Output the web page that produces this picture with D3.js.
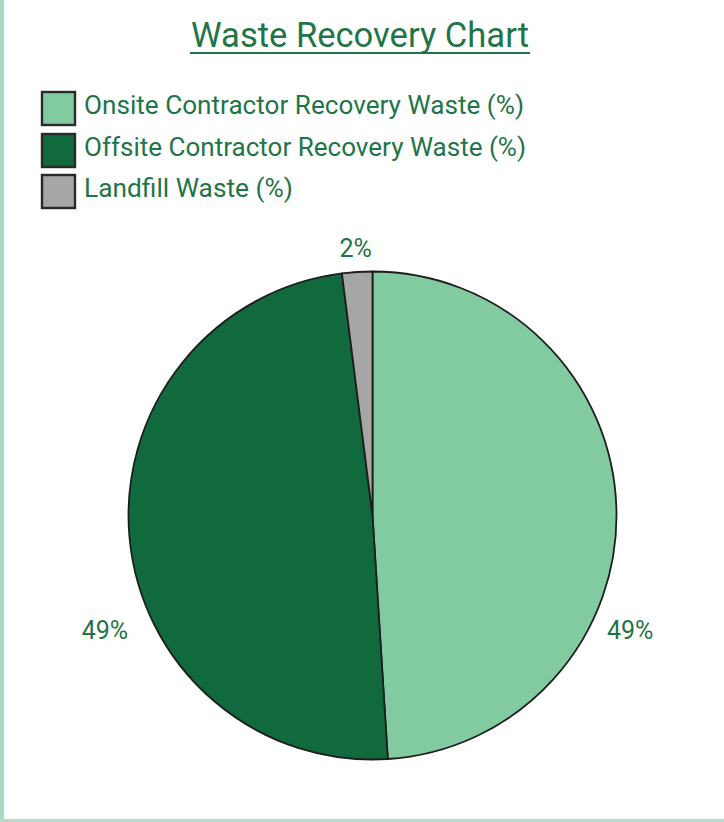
<!DOCTYPE html>
<html>
<head>
<meta charset="utf-8">
<script src="https://cdn.jsdelivr.net/npm/d3@7/dist/d3.min.js"></script>
<style>
  html, body { margin: 0; padding: 0; background: #fff; }
  svg { display: block; }
</style>
</head>
<body>
<svg id="chart" width="724" height="822"></svg>
<script>
const categories = [
  "Onsite Contractor Recovery Waste (%)",
  "Offsite Contractor Recovery Waste (%)",
  "Landfill Waste (%)"
];
const values = [49, 49, 2];
const colors = ["#82cba1", "#116a3d", "#a6a6a6"];
const title = "Waste Recovery Chart";

const W = 724, H = 822;
const textColor = "#1f7547";
const font = "Roboto, 'Noto Sans', sans-serif";
const svg = d3.select("#chart");

// frame: light green left edge and bottom rule
svg.append("rect").attr("x", 0).attr("y", 0).attr("width", 4).attr("height", H).attr("fill", "#a8d8c0");
svg.append("rect").attr("x", 0).attr("y", 819).attr("width", W).attr("height", 3).attr("fill", "#b5dcc8");

// title with underline
svg.append("text")
  .attr("x", 360).attr("y", 47)
  .attr("text-anchor", "middle")
  .attr("font-family", font).attr("font-size", 35).attr("font-weight", 400)
  .attr("fill", textColor)
  .attr("textLength", 338).attr("lengthAdjust", "spacingAndGlyphs")
  .text(title);
svg.append("line")
  .attr("x1", 190).attr("x2", 530).attr("y1", 53).attr("y2", 53)
  .attr("stroke", textColor).attr("stroke-width", 2);

// legend
const legendY = [92, 134, 175];
const legendLen = [440, 442, 209];
const legend = svg.append("g");
categories.forEach((c, i) => {
  legend.append("rect")
    .attr("x", 42).attr("y", legendY[i])
    .attr("width", 33).attr("height", 33)
    .attr("fill", colors[i]).attr("stroke", "#2a2a2a").attr("stroke-width", 2.4);
  legend.append("text")
    .attr("x", 84).attr("y", legendY[i] + 22)
    .attr("font-family", font).attr("font-size", 25).attr("font-weight", 400)
    .attr("fill", textColor)
    .attr("textLength", legendLen[i]).attr("lengthAdjust", "spacingAndGlyphs")
    .text(c);
});

// pie
const cx = 372.5, cy = 515.5, R = 244;
const pie = d3.pie().sort(null).value(d => d);
const arcs = pie(values);
const arc = d3.arc().innerRadius(0).outerRadius(R);
const g = svg.append("g").attr("transform", `translate(${cx},${cy})`);
g.selectAll("path.slice")
  .data(arcs)
  .enter().append("path")
  .attr("class", "slice")
  .attr("d", arc)
  .attr("fill", (d, i) => colors[i])
  .attr("stroke", "#1e1e1e")
  .attr("stroke-width", 1.8)
  .attr("stroke-linejoin", "round");

// percentage labels, placed outside the rim
const labelPlacement = [
  { shift: 0.45, r: 282 },
  { shift: -0.31, r: 291 },
  { shift: 0.0, r: 268 }
];
arcs.forEach((a, i) => {
  const mid = (a.startAngle + a.endAngle) / 2 + labelPlacement[i].shift;
  const r = labelPlacement[i].r;
  const x = Math.sin(mid) * r;
  const y = -Math.cos(mid) * r;
  g.append("text")
    .attr("x", x).attr("y", y + 9)
    .attr("text-anchor", "middle")
    .attr("font-family", font).attr("font-size", 25).attr("font-weight", 400)
    .attr("fill", textColor)
    .text(d3.format(".0f")(a.data) + "%");
});
</script>
</body>
</html>
